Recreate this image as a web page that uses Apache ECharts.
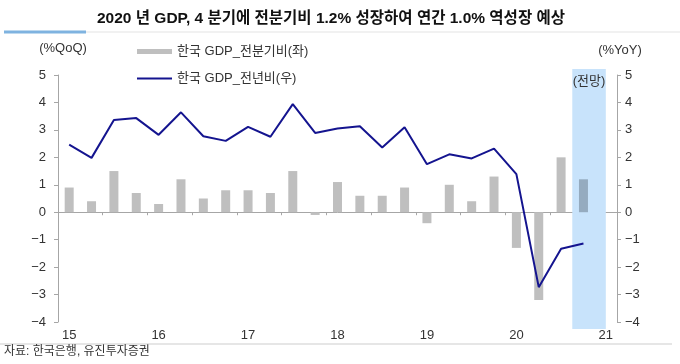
<!DOCTYPE html>
<html>
<head>
<meta charset="utf-8">
<script src="https://cdn.jsdelivr.net/npm/echarts@6/dist/echarts.min.js"></script>
<style>
html,body{margin:0;padding:0;background:#fff;}
#chart{width:680px;height:364px;}
</style>
</head>
<body>
<div id="chart"></div>
<script>
// ---- data ----
const categories = ['15.1Q','15.2Q','15.3Q','15.4Q','16.1Q','16.2Q','16.3Q','16.4Q',
  '17.1Q','17.2Q','17.3Q','17.4Q','18.1Q','18.2Q','18.3Q','18.4Q',
  '19.1Q','19.2Q','19.3Q','19.4Q','20.1Q','20.2Q','20.3Q','20.4Q','21.1Q'];
const qoq = [0.9,0.4,1.5,0.7, 0.3,1.2,0.5,0.8, 0.8,0.7,1.5,-0.1, 1.1,0.6,0.6,0.9,
  -0.4,1.0,0.4,1.3, -1.3,-3.2,2.0,1.2, null];
const yoy = [2.46,1.98,3.36,3.43, 2.82,3.64,2.77,2.60, 3.11,2.75,3.94,2.89, 3.05,3.13,2.36,3.10,
  1.75,2.11,1.96,2.32, 1.39,-2.73,-1.33,-1.14, null];
const forecastStart = '20.4Q';
const forecastEnd = '21.1Q';
const yTicks = {min: -4, max: 5, interval: 1};
const barName = '한국 GDP_전분기비(좌)';
const lineName = '한국 GDP_전년비(우)';
const titleText = '2020 년 GDP, 4 분기에 전분기비 1.2% 성장하여 연간 1.0% 역성장 예상';
const sourceText = '자료: 한국은행, 유진투자증권';

const FONT = '"Liberation Sans", "Noto Sans CJK KR", sans-serif';
const AXIS = '#a6a6a6';
const TXT = '#333';
const BAR = '#bfbfbf';
const LINE = '#14148f';
const fmtNum = v => String(v).replace('-', '−');

const chart = echarts.init(document.getElementById('chart'), null, {renderer: 'canvas'});
const forecastIdx = categories.indexOf(forecastStart);

chart.setOption({
  animation: false,
  textStyle: {fontFamily: FONT},
  title: {
    text: titleText, left: 97, top: 11, padding: 0,
    textStyle: {fontFamily: FONT, fontSize: 15.5, fontWeight: 'bold', color: '#111'}
  },
  graphic: [
    {type: 'rect', shape: {x: 86, y: 31.5, width: 594, height: 1}, style: {fill: '#e3e3e3'}},
    {type: 'rect', shape: {x: 4, y: 30.5, width: 82, height: 3}, style: {fill: '#7fb3e0'}},
    {type: 'rect', shape: {x: 0, y: 343, width: 672, height: 2}, style: {fill: '#e6e6e6'}},
    {type: 'text', left: 4, top: 346, style: {text: sourceText, fontFamily: FONT, fontSize: 12, fill: TXT}}
  ],
  legend: [
    {data: [{name: barName, icon: 'rect', itemStyle: {color: BAR}}], left: 137, top: 45,
     padding: 0, itemWidth: 35, itemHeight: 5,
     textStyle: {fontSize: 13, color: TXT, fontFamily: FONT}},
    {data: [{name: lineName, icon: 'rect', itemStyle: {color: LINE}}], left: 137, top: 72,
     padding: 0, itemWidth: 35, itemHeight: 2,
     textStyle: {fontSize: 13, color: TXT, fontFamily: FONT}}
  ],
  grid: {left: 58, right: 63, top: 75, bottom: 42, containLabel: false},
  xAxis: [
    {type: 'category', data: categories, position: 'bottom',
     axisLine: {onZero: true, lineStyle: {color: AXIS, width: 1}},
     axisTick: {show: true, length: 3, lineStyle: {color: AXIS}},
     axisLabel: {show: false}, splitLine: {show: false}},
    {type: 'category', data: categories, position: 'bottom',
     axisLine: {show: false}, axisTick: {show: false}, splitLine: {show: false},
     axisLabel: {interval: 3, margin: 7, fontSize: 13, color: TXT, fontFamily: FONT,
       formatter: v => v.slice(0, 2)}}
  ],
  yAxis: [
    {type: 'value', min: yTicks.min, max: yTicks.max, interval: yTicks.interval, position: 'left',
     name: '(%QoQ)', nameLocation: 'end', nameGap: 20,
     nameTextStyle: {fontSize: 13, color: TXT, fontFamily: FONT, padding: [0, 0, 0, 10]},
     axisLine: {show: true, lineStyle: {color: AXIS}},
     axisTick: {show: true, length: 4, lineStyle: {color: AXIS}},
     axisLabel: {margin: 12, fontSize: 13, color: TXT, fontFamily: FONT, formatter: fmtNum},
     splitLine: {show: false}},
    {type: 'value', min: yTicks.min, max: yTicks.max, interval: yTicks.interval, position: 'right',
     name: '(%YoY)', nameLocation: 'end', nameGap: 18,
     nameTextStyle: {fontSize: 13, color: TXT, fontFamily: FONT, padding: [0, 0, 0, 6]},
     axisLine: {show: true, lineStyle: {color: AXIS}},
     axisTick: {show: true, length: 4, lineStyle: {color: AXIS}},
     axisLabel: {margin: 8, fontSize: 13, color: TXT, fontFamily: FONT, formatter: fmtNum},
     splitLine: {show: false}}
  ],
  series: [
    {name: barName, type: 'bar', xAxisIndex: 0, yAxisIndex: 0, data: qoq, barWidth: 9, z: 3,
     itemStyle: {color: p => p.dataIndex >= forecastIdx ? '#95abbf' : BAR},
     markArea: {
       silent: true, z: 1,
       itemStyle: {color: '#c8e3fb'},
       label: {show: true, position: 'insideTop', distance: 6, formatter: '(전망)',
         fontSize: 13, color: TXT, fontFamily: FONT},
       data: [[{xAxis: forecastStart, y: 69}, {xAxis: forecastEnd, y: 329}]]
     }},
    {name: lineName, type: 'line', xAxisIndex: 0, yAxisIndex: 1, data: yoy, z: 4,
     symbol: 'none', lineStyle: {color: LINE, width: 2}, itemStyle: {color: LINE}}
  ]
});
</script>
</body>
</html>
